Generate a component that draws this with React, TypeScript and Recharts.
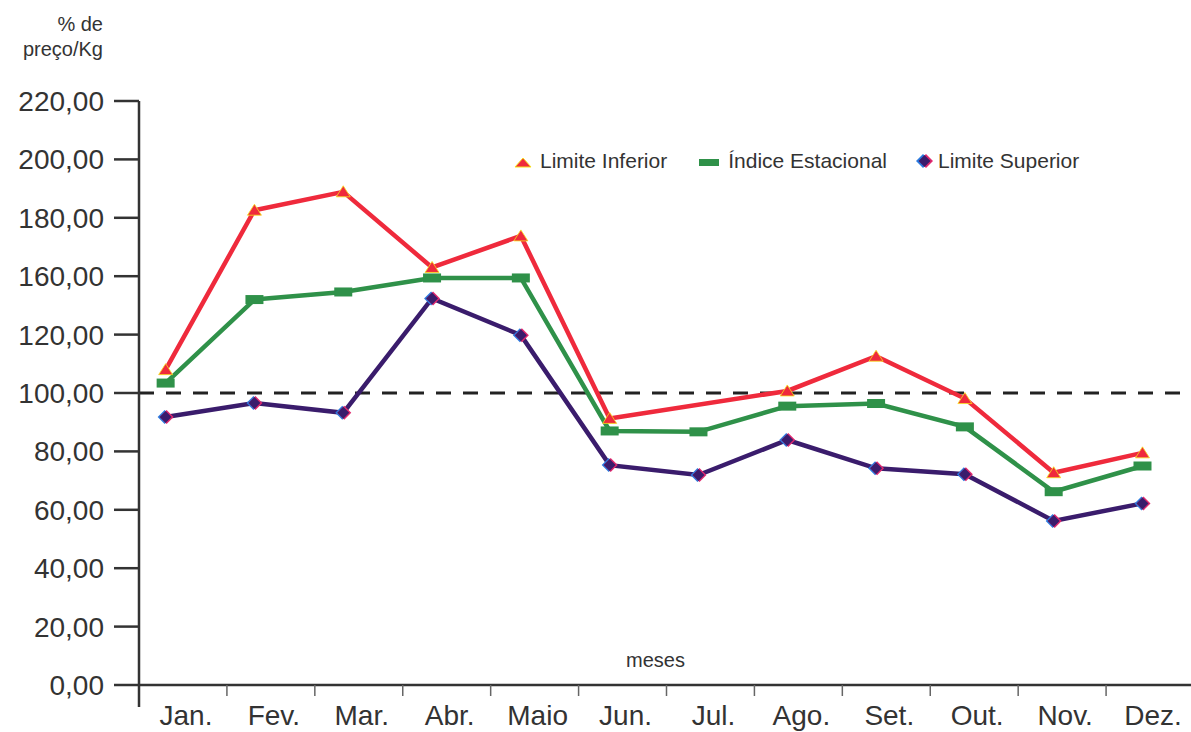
import React from 'react';
import { LineChart, Line, XAxis, YAxis, ReferenceLine, Legend } from 'recharts';

const months = ['Jan.', 'Fev.', 'Mar.', 'Abr.', 'Maio', 'Jun.', 'Jul.', 'Ago.', 'Set.', 'Out.', 'Nov.', 'Dez.'];
const limiteInferior: (number | null)[] = [108, 162.6, 168.9, 143, 153.8, 91.3, null, 100.7, 112.6, 98.1, 72.7, 79.5];
const indiceEstacional = [103.4, 132, 134.6, 139.4, 139.4, 87, 86.7, 95.5, 96.4, 88.4, 66.2, 75];
const limiteSuperior = [91.8, 96.6, 93.2, 132.4, 119.8, 75.3, 71.9, 83.9, 74.2, 72.2, 56.2, 62.2];
const yTickValues = [0, 20, 40, 60, 80, 100, 120, 140, 160, 180, 200];
const yTickLabels = ['0,00', '20,00', '40,00', '60,00', '80,00', '100,00', '120,00', '160,00', '180,00', '200,00', '220,00'];
const seriesNames = ['Limite Inferior', 'Índice Estacional', 'Limite Superior'];

const data = months.map((m, i) => ({
  mes: m,
  idx: i,
  inf: limiteInferior[i],
  ind: indiceEstacional[i],
  sup: limiteSuperior[i],
}));

const RED = '#ef2a3c';
const GREEN = '#2f9149';
const PURPLE = '#3a1c6c';
const TEXT = '#333';
const FONT = '"Liberation Sans", Arial, Helvetica, sans-serif';

const MonthTick = (props: any) => {
  const { x, y, payload, index, width, visibleTicksCount } = props;
  const half = payload && payload.offset ? payload.offset : (width / (visibleTicksCount || 12)) / 2;
  const axisY = y - 10;
  return (
    <g>
      <line x1={x + half} y1={axisY} x2={x + half} y2={axisY + 11} stroke="#666" strokeWidth={1.5} />
      {index === 0 && (
        <line x1={x - half} y1={axisY} x2={x - half} y2={axisY + 22} stroke={TEXT} strokeWidth={2.5} />
      )}
      <text x={x + 3} y={axisY + 40} textAnchor="middle" fontSize={28} fill={TEXT} fontFamily={FONT}>
        {payload.value}
      </text>
    </g>
  );
};

const TriangleDot = (props: any) => {
  const { cx, cy } = props;
  if (cx == null || cy == null || props.value == null) return null;
  return <path d={`M${cx - 7},${cy + 5} L${cx + 7},${cy + 5} L${cx},${cy - 6} Z`} fill={RED} stroke="#f7e21b" strokeWidth={0.8} />;
};

const RectDot = (props: any) => {
  const { cx, cy } = props;
  if (cx == null || cy == null) return null;
  return <rect x={cx - 9} y={cy - 4.5} width={18} height={9} fill={GREEN} />;
};

const DiamondDot = (props: any) => {
  const { cx, cy } = props;
  if (cx == null || cy == null) return null;
  return (
    <g>
      <path d={`M${cx - 1},${cy - 7} L${cx + 6},${cy} L${cx - 1},${cy + 7} L${cx - 8},${cy} Z`} fill="#2a7be0" />
      <path d={`M${cx + 1},${cy - 7} L${cx + 8},${cy} L${cx + 1},${cy + 7} L${cx - 6},${cy} Z`} fill="#e0286e" />
      <path d={`M${cx},${cy - 6} L${cx + 6},${cy} L${cx},${cy + 6} L${cx - 6},${cy} Z`} fill={PURPLE} />
    </g>
  );
};

const legendMarker = (key: string) => {
  if (key === 'inf') {
    return (
      <svg width={18} height={14} style={{ display: 'block' }}>
        <path d="M1,13 L17,13 L9,4 Z" fill={RED} stroke="#f7e21b" strokeWidth={1} />
      </svg>
    );
  }
  if (key === 'ind') {
    return (
      <svg width={20} height={14} style={{ display: 'block' }}>
        <rect x={0} y={5} width={20} height={7} fill={GREEN} />
      </svg>
    );
  }
  return (
    <svg width={17} height={16} style={{ display: 'block' }}>
      <path d="M7,1 L14,8 L7,15 L0,8 Z" fill="#2a7be0" />
      <path d="M10,1 L17,8 L10,15 L3,8 Z" fill="#e0286e" />
      <path d="M8.5,2 L14.5,8 L8.5,14 L2.5,8 Z" fill={PURPLE} />
    </svg>
  );
};

const legendGaps = [32, 29, 0];
const textGaps = [8, 9, 5];

const LegendContent = (props: any) => {
  const payload = [...(props.payload || [])].sort(
    (a: any, b: any) => seriesNames.indexOf(a.value) - seriesNames.indexOf(b.value)
  );
  return (
    <div style={{ display: 'flex', alignItems: 'center', fontFamily: FONT, fontSize: 21, color: TEXT }}>
      {payload.map((entry: any, i: number) => (
        <div key={i} style={{ display: 'flex', alignItems: 'center', marginRight: legendGaps[i] }}>
          {legendMarker(entry.dataKey)}
          <span style={{ marginLeft: textGaps[i], whiteSpace: 'nowrap' }}>{entry.value}</span>
        </div>
      ))}
    </div>
  );
};

export default function App() {
  return (
    <div
      style={{
        position: 'absolute',
        left: 0,
        top: 0,
        width: 1191,
        height: 732,
        overflow: 'hidden',
        background: '#fff',
        fontFamily: FONT,
      }}
    >
      <div
        style={{
          position: 'absolute',
          left: 0,
          top: 12,
          width: 103,
          textAlign: 'right',
          fontSize: 20,
          lineHeight: '25px',
          color: TEXT,
        }}
      >
        % de
        <br />
        preço/Kg
      </div>
      <div
        style={{
          position: 'absolute',
          left: 626,
          top: 648,
          fontSize: 20,
          lineHeight: '24px',
          color: TEXT,
        }}
      >
        meses
      </div>
      <LineChart width={1194} height={732} data={data} margin={{ top: 101, right: 0, bottom: 0, left: 0 }}>
        <XAxis
          xAxisId="cat"
          dataKey="mes"
          type="category"
          scale="band"
          height={47}
          interval={0}
          axisLine={{ stroke: TEXT, strokeWidth: 2.5 }}
          tickLine={false}
          tickSize={10}
          tickMargin={0}
          tick={<MonthTick />}
        />
        <XAxis xAxisId="pos" dataKey="idx" type="number" domain={[-0.3, 11.58]} hide allowDataOverflow />
        <YAxis
          width={139}
          domain={[0, 200]}
          ticks={yTickValues}
          interval={0}
          tickFormatter={(v: number) => yTickLabels[yTickValues.indexOf(v)]}
          tickSize={25}
          tickMargin={10}
          tick={{ fontSize: 28, fill: TEXT, fontFamily: FONT }}
          axisLine={{ stroke: TEXT, strokeWidth: 2.5 }}
          tickLine={{ stroke: TEXT, strokeWidth: 2.5 }}
        />
        <ReferenceLine xAxisId="pos" y={100} stroke="#222" strokeWidth={3} strokeDasharray="15 12" />
        <Legend
          layout="horizontal"
          verticalAlign="middle"
          align="center"
          content={<LegendContent />}
          wrapperStyle={{ position: 'absolute', top: 149, left: 514, width: 'auto', height: 'auto' }}
        />
        <Line
          xAxisId="pos"
          dataKey="inf"
          name={seriesNames[0]}
          stroke={RED}
          strokeWidth={4.5}
          connectNulls
          dot={<TriangleDot />}
          activeDot={false}
          isAnimationActive={false}
        />
        <Line
          xAxisId="pos"
          dataKey="ind"
          name={seriesNames[1]}
          stroke={GREEN}
          strokeWidth={4.5}
          dot={<RectDot />}
          activeDot={false}
          isAnimationActive={false}
        />
        <Line
          xAxisId="pos"
          dataKey="sup"
          name={seriesNames[2]}
          stroke={PURPLE}
          strokeWidth={4.5}
          dot={<DiamondDot />}
          activeDot={false}
          isAnimationActive={false}
        />
      </LineChart>
    </div>
  );
}
